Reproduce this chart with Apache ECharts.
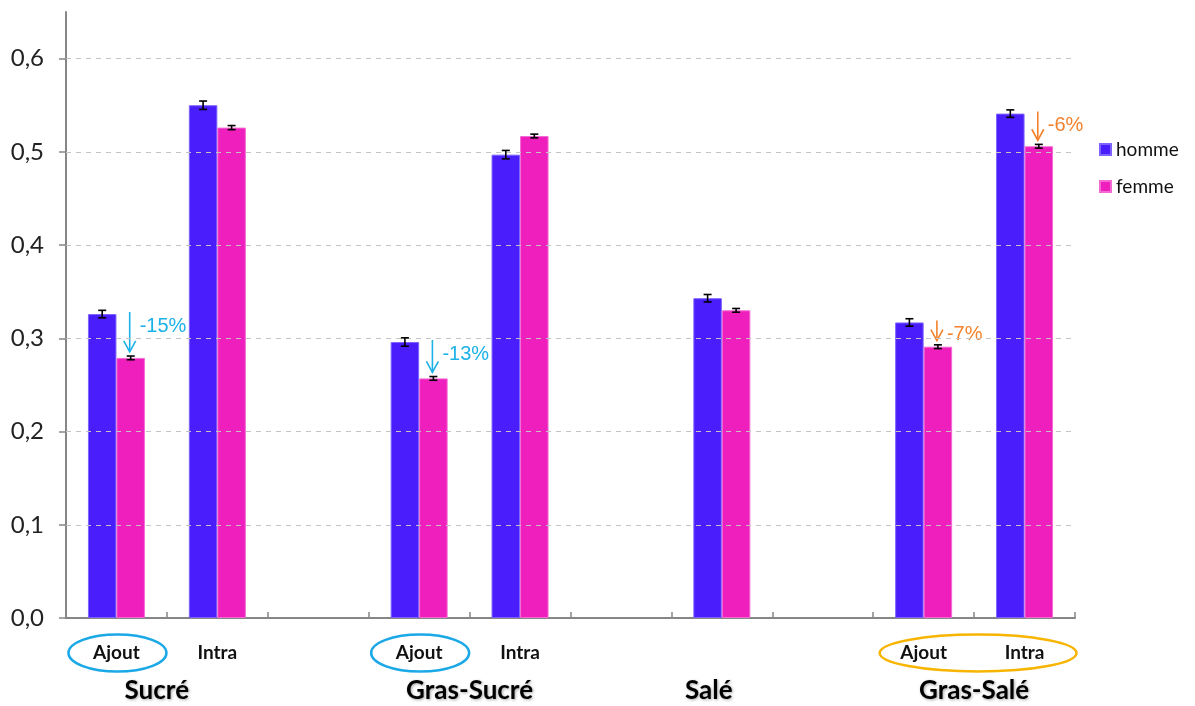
<!DOCTYPE html>
<html><head><meta charset="utf-8">
<script src="https://cdn.jsdelivr.net/npm/echarts@6/dist/echarts.min.js"></script>
<style>html,body{margin:0;padding:0;background:#fff}#c{width:1195px;height:706px}</style>
</head><body><div id="c"></div>
<script>
// ---- data ----
const slots = ['S-Ajout','S-Intra','gap1','GS-Ajout','GS-Intra','gap2','Sale','gap3','GSa-Ajout','GSa-Intra'];
const subLabels = ['Ajout','Intra','','Ajout','Intra','','','','Ajout','Intra'];
const homme = [0.326, 0.550, null, 0.296, 0.497, null, 0.343, null, 0.317, 0.541];
const femme = [0.279, 0.526, null, 0.257, 0.517, null, 0.330, null, 0.291, 0.506];
const hommeErr = [0.004, 0.0045, null, 0.0045, 0.0045, null, 0.004, null, 0.004, 0.004];
const femmeErr = [0.002, 0.0022, null, 0.002, 0.002, null, 0.002, null, 0.002, 0.002];
const groupNames = ['Sucré', 'Gras-Sucré', 'Salé', 'Gras-Salé'];
const groupPos = [0.4, 3.5, 5.87, 8.5];
const annotTexts = ['-15%', '-13%', '-7%', '-6%'];
const annotIdx = [0, 3, 8, 9];
const annotColors = ['#1cb1e8', '#1cb1e8', '#f5822b', '#f5822b'];
const ellipseSlots = [[0], [3], [8, 9]];
const ellipseColors = ['#1ba8e6', '#1ba8e6', '#f7b400'];
const yTicks = [0, 0.1, 0.2, 0.3, 0.4, 0.5, 0.6];

const BAR_W = 28.5;
const cHomme = '#4a1dfc', cFemme = '#ee1fbd';

const chart = echarts.init(document.getElementById('c'), null, {renderer: 'canvas'});

function errSeries(vals, errs, side) {
  return {
    type: 'custom',
    silent: true,
    z: 10,
    data: vals.map((v, i) => v == null ? [i, null, null] : [i, v - errs[i], v + errs[i]]),
    renderItem: function (params, api) {
      if (api.value(1) == null || isNaN(api.value(1))) return;
      const lo = api.coord([api.value(0), api.value(1)]);
      const hi = api.coord([api.value(0), api.value(2)]);
      const x = lo[0] + side * BAR_W / 2;
      const cw = 4;
      const st = {stroke: '#000', lineWidth: 1.6};
      return {type: 'group', children: [
        {type: 'line', shape: {x1: x, y1: lo[1], x2: x, y2: hi[1]}, style: st},
        {type: 'line', shape: {x1: x - cw, y1: lo[1], x2: x + cw, y2: lo[1]}, style: st},
        {type: 'line', shape: {x1: x - cw, y1: hi[1], x2: x + cw, y2: hi[1]}, style: st}
      ]};
    },
    encode: {x: 0, y: [1, 2]}
  };
}

chart.setOption({
  animation: false,
  backgroundColor: '#fff',
  grid: {left: 66, right: 120, top: 12, bottom: 88, containLabel: false},
  legend: {
    orient: 'vertical', left: 1099, top: 140, padding: 0,
    itemWidth: 11, itemHeight: 11, itemGap: 18,
    icon: 'rect',
    textStyle: {fontFamily: 'Lato', fontSize: 19, color: '#111'},
    data: ['homme', 'femme']
  },
  xAxis: {
    type: 'category', data: slots,
    axisLine: {lineStyle: {color: '#868686', width: 2}},
    axisTick: {show: true, inside: true, length: 6, lineStyle: {color: '#868686', width: 1.5}},
    axisLabel: {
      margin: 25,
      formatter: (v, i) => subLabels[i],
      fontFamily: 'Lato', fontWeight: 'bold', fontSize: 19, color: '#111'
    },
    splitLine: {show: false}
  },
  yAxis: {
    type: 'value', min: 0, max: 0.65, interval: 0.1,
    axisLine: {show: true, lineStyle: {color: '#868686', width: 2}},
    axisTick: {show: true, length: 7, lineStyle: {color: '#868686', width: 1.5}},
    axisLabel: {
      margin: 22,
      fontFamily: 'Lato', fontSize: 24, color: '#222',
      formatter: v => yTicks.some(t => Math.abs(t - v) < 1e-9) ? v.toFixed(1).replace('.', ',') : '',
      showMaxLabel: false
    },
    splitLine: {show: false}
  },
  series: [
    {name: 'grid', type: 'line', data: [], z: 0, silent: true,
      markLine: {
        silent: true, symbol: ['none', 'none'], label: {show: false},
        lineStyle: {color: '#c3c3c3', type: [5, 5], width: 1},
        data: yTicks.filter(t => t > 0).map(t => ({yAxis: t}))
      }},
    {name: 'homme', type: 'bar', data: homme, barWidth: BAR_W, barGap: '0%', z: 2,
      itemStyle: {color: cHomme, borderColor: '#7d63ff', borderWidth: 1}},
    {name: 'femme', type: 'bar', data: femme, barWidth: BAR_W, barGap: '0%', z: 2,
      itemStyle: {color: cFemme, borderColor: '#f46ad3', borderWidth: 1}},
    errSeries(homme, hommeErr, -1),
    errSeries(femme, femmeErr, 1)
  ]
});

function px(i, v) { return chart.convertToPixel({xAxisIndex: 0, yAxisIndex: 0}, [i, v]); }
function pxFrac(f, v) {
  const a = Math.floor(f), b = Math.min(a + 1, slots.length - 1);
  const pa = px(a, v), pb = px(b, v);
  const step = b > a ? (pb[0] - pa[0]) : 0;
  return [pa[0] + (f - a) * step, pa[1]];
}

const graphics = [];
const axisY = px(0, 0)[1];
// annotations
annotIdx.forEach((ci, k) => {
  const top = px(ci, homme[ci]);
  const bot = px(ci, femme[ci]);
  const x = top[0] + BAR_W / 2 - 1;
  const y1 = top[1] - 2;
  const y2 = bot[1] - 6;
  const col = annotColors[k];
  graphics.push({type: 'line', shape: {x1: x, y1: y1, x2: x, y2: y2}, style: {stroke: col, lineWidth: 1.6}});
  graphics.push({type: 'polyline', shape: {points: [[x - 6, y2 - 11], [x, y2], [x + 6, y2 - 11]]}, style: {stroke: col, lineWidth: 1.6, fill: null}});
  graphics.push({type: 'text', x: x + 10, y: y1 + 14, style: {text: annotTexts[k], fill: col, font: '20px "Liberation Sans"', textVerticalAlign: 'middle', textAlign: 'left'}});
});
// ellipses
ellipseSlots.forEach((sl, k) => {
  const a = px(sl[0], 0), b = px(sl[sl.length - 1], 0);
  const cx = (a[0] + b[0]) / 2 + (sl.length > 1 ? 4 : 1);
  const rx = sl.length > 1 ? (b[0] - a[0]) / 2 + 48 : 49;
  graphics.push({type: 'ellipse', shape: {cx: cx, cy: axisY + 35, rx: rx, ry: 18.5}, style: {stroke: ellipseColors[k], lineWidth: 2.5, fill: null}});
});
// group names
groupNames.forEach((g, k) => {
  const p = pxFrac(groupPos[k], 0);
  graphics.push({type: 'text', x: p[0], y: axisY + 73, style: {text: g, fill: '#000', font: 'bold 26px Lato', textAlign: 'center', textVerticalAlign: 'middle', textShadowColor: 'rgba(0,0,0,0.35)', textShadowBlur: 3, textShadowOffsetX: 1, textShadowOffsetY: 1}});
});
chart.setOption({graphic: graphics});
</script></body></html>
